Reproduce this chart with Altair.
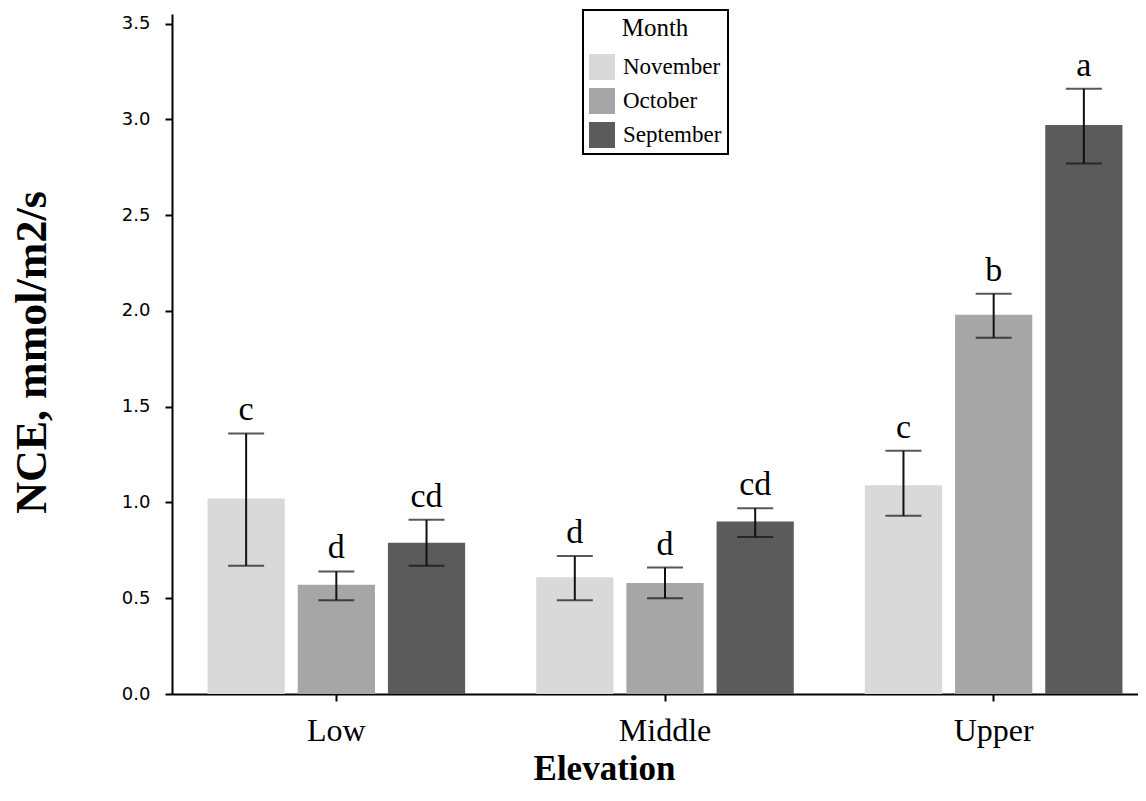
import altair as alt
import pandas as pd

elevations = ["Low", "Middle", "Upper"]
months = ["November", "October", "September"]
month_colors = ["#d9d9d9", "#a6a6a6", "#5b5b5b"]

elev_col = ["Low", "Low", "Low", "Middle", "Middle", "Middle", "Upper", "Upper", "Upper"]
month_col = ["November", "October", "September"] * 3
nce_mean = [1.02, 0.57, 0.79, 0.61, 0.58, 0.90, 1.09, 1.98, 2.97]
nce_low = [0.67, 0.49, 0.67, 0.49, 0.50, 0.82, 0.93, 1.86, 2.77]
nce_high = [1.36, 0.64, 0.91, 0.72, 0.66, 0.97, 1.27, 2.09, 3.16]
letters = ["c", "d", "cd", "d", "d", "cd", "c", "b", "a"]
y_ticks = [0.0, 0.5, 1.0, 1.5, 2.0, 2.5, 3.0, 3.5]

df = pd.DataFrame({
    "Elevation": elev_col,
    "Month": month_col,
    "NCE": nce_mean,
    "low": nce_low,
    "high": nce_high,
    "letter": letters,
})

SERIF = "Liberation Serif"

base = alt.Chart(df).encode(
    x=alt.X(
        "Elevation:N",
        sort=elevations,
        scale=alt.Scale(domain=elevations, range=[0, 986], paddingInner=0, paddingOuter=0),
        axis=alt.Axis(
            title="Elevation",
            labelAngle=0,
            labelFont=SERIF,
            labelFontSize=32,
            labelColor="black",
            labelBaseline="alphabetic",
            labelPadding=39,
            tickSize=7,
            tickWidth=2,
            tickColor="black",
            domainColor="black",
            domainWidth=2,
            titleFont=SERIF,
            titleFontSize=35,
            titleFontWeight="bold",
            titleColor="black",
            titleX=432,
            titleY=85,
            titleAnchor="start",
            titleAlign="center",
            titleBaseline="alphabetic",
        ),
    ),
    xOffset=alt.XOffset(
        "Month:N",
        sort=months,
        scale=alt.Scale(domain=months, paddingInner=0.144, paddingOuter=0.394),
    ),
)

bars = base.mark_bar().encode(
    y=alt.Y(
        "NCE:Q",
        scale=alt.Scale(domain=[0, 3.55], nice=False, zero=True),
        axis=alt.Axis(
            title="NCE, mmol/m2/s",
            values=y_ticks,
            format=".1f",
            labelFont="DejaVu Sans",
            labelFontSize=18,
            labelColor="black",
            labelPadding=15,
            tickSize=7,
            tickWidth=2,
            tickColor="black",
            domainColor="black",
            domainWidth=2,
            grid=False,
            titleFont=SERIF,
            titleFontSize=44,
            titleFontWeight="bold",
            titleColor="black",
            titleX=-127,
            titleY=338,
            titleAngle=-90,
            titleAnchor="start",
            titleAlign="center",
            titleBaseline="alphabetic",
        ),
    ),
    color=alt.Color(
        "Month:N",
        sort=months,
        scale=alt.Scale(domain=months, range=month_colors),
        legend=alt.Legend(
            title="Month",
            orient="none",
            legendX=411,
            legendY=-4,
            titleFont=SERIF,
            titleFontSize=25,
            titleFontWeight="normal",
            titleColor="black",
            titleAnchor="middle",
            titlePadding=13,
            labelFont=SERIF,
            labelFontSize=23,
            labelColor="black",
            symbolType="square",
            symbolSize=676,
            symbolStrokeWidth=0,
            rowPadding=8,
            labelOffset=8,
            padding=6,
            strokeColor="black",
            fillColor="white",
        ),
    ),
)

err = base.mark_rule(color="#111111", strokeWidth=2).encode(
    y=alt.Y("low:Q"), y2=alt.Y2("high:Q")
)
cap_low = base.mark_tick(color="#111111", size=36, thickness=2).encode(y=alt.Y("low:Q"))
cap_high = base.mark_tick(color="#111111", size=36, thickness=2).encode(y=alt.Y("high:Q"))

labels = base.mark_text(
    baseline="alphabetic", dy=-13, font=SERIF, fontSize=34, color="black"
).encode(y=alt.Y("high:Q"), text="letter:N")

chart = (
    alt.layer(bars, err, cap_low, cap_high, labels)
    .properties(
        width=966,
        height=680,
        autosize=alt.AutoSizeParams(type="none"),
        padding={"left": 164, "top": 6, "right": 0, "bottom": 94},
        background="white",
    )
    .configure_view(stroke=None)
    .configure_legend(strokeWidth=2)
)

chart.save("out.html", embed_options={"renderer": "svg", "actions": False})
